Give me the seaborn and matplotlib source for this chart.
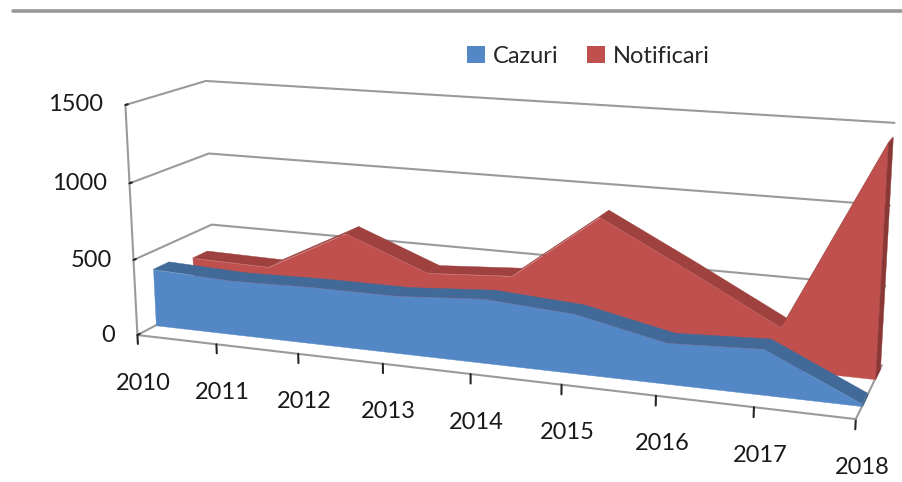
import numpy as np
import matplotlib
matplotlib.use("Agg")
import matplotlib.pyplot as plt
import seaborn as sns
from mpl_toolkits.mplot3d.art3d import Poly3DCollection
from mpl_toolkits.mplot3d import proj3d
from matplotlib.patches import Patch
from matplotlib.lines import Line2D

# ---- data ----
years = [2010, 2011, 2012, 2013, 2014, 2015, 2016, 2017, 2018]
cazuri = [380, 358, 370, 370, 408, 372, 252, 278, 12]
notificari = [330, 320, 600, 385, 420, 850, 560, 260, 1430]
series_names = ["Cazuri", "Notificari"]
value_ticks = [0, 500, 1000, 1500]

sns.set_theme(style="white")
plt.rcParams["font.family"] = ["Lato", "DejaVu Sans"]

front_cols = {"Cazuri": "#5387C5", "Notificari": "#C0504D"}
top_cols = {"Cazuri": "#416A99", "Notificari": "#9E413F"}
side_cols = {"Cazuri": "#3B5F8A", "Notificari": "#8A3836"}
text_col = "#1a1a1a"

fig = plt.figure(figsize=(9.03, 4.82), dpi=100)
ax = fig.add_axes([-0.015, -0.06, 1.12, 1.12], projection="3d")
ax.computed_zorder = False


def add_series(values, name, y0, y1, zbase):
    xs = list(range(len(values)))
    zs = list(values)
    tops = []
    for i in range(len(xs) - 1):
        tops.append([(xs[i], y0, zs[i]), (xs[i + 1], y0, zs[i + 1]),
                     (xs[i + 1], y1, zs[i + 1]), (xs[i], y1, zs[i])])
    front = [(xs[0], y0, 0)] + [(x, y0, z) for x, z in zip(xs, zs)] + [(xs[-1], y0, 0)]
    right = [(xs[-1], y0, 0), (xs[-1], y0, zs[-1]), (xs[-1], y1, zs[-1]), (xs[-1], y1, 0)]
    c1 = Poly3DCollection(tops, facecolors=top_cols[name], edgecolors=top_cols[name], linewidths=0.3)
    c2 = Poly3DCollection([front], facecolors=front_cols[name], edgecolors=front_cols[name], linewidths=0.3)
    c3 = Poly3DCollection([right], facecolors=side_cols[name], edgecolors=side_cols[name], linewidths=0.3)
    for k, c in enumerate((c1, c2, c3)):
        c.set_zorder(zbase + k)
        c.set_clip_on(False)
        ax.add_collection3d(c)


add_series(notificari, "Notificari", 1.45, 1.85, 10)
add_series(cazuri, "Cazuri", 0.45, 0.85, 20)

ax.set_xlim(0, len(years) - 1)
ax.set_ylim(0, 2)
ax.set_zlim(0, 1500)
ax.set_box_aspect((3.4, 0.75, 1.11), zoom=1.44)
ax.set_proj_type("persp", focal_length=0.6)
ax.view_init(elev=14, azim=-70)

ax.set_xticks(range(len(years)))
ax.set_yticks([])
ax.set_zticks(value_ticks)
ax.zaxis.set_ticks_position("lower")
ax.zaxis.set_label_position("lower")
ax.tick_params(axis="x", labelbottom=False)
ax.tick_params(axis="y", labelleft=False)
ax.tick_params(axis="z", labelleft=False)
for axis in (ax.xaxis, ax.yaxis, ax.zaxis):
    axis.label.set_visible(False)
    for t in axis.get_ticklabels():
        t.set_visible(False)
# x ticks point downwards (along the vertical axis)
ax.xaxis._get_tickdir = lambda *a, **k: 2

grey = "#9a9a9a"
for axis in (ax.xaxis, ax.yaxis, ax.zaxis):
    axis.set_pane_color((1, 1, 1, 0))
    axis.pane.set_edgecolor((1, 1, 1, 0))
    axis.line.set_color(grey)
    axis.line.set_linewidth(1.5)
    axis._axinfo["tick"]["inward_factor"] = 0.0
    axis._axinfo["tick"]["outward_factor"] = 0.35
    axis._axinfo["tick"]["color"] = grey
    axis._axinfo["tick"]["linewidth"] = {True: 1.5, False: 1.0}
ax.xaxis._axinfo["tick"]["outward_factor"] = 0.5
ax.zaxis.pane.set_edgecolor(grey)
ax.zaxis.pane.set_linewidth(1.5)
ax.zaxis._axinfo["grid"].update(color=grey, linewidth=1.5, linestyle="-")
ax.xaxis._axinfo["grid"].update(color=(1, 1, 1, 0), linewidth=0)
ax.yaxis._axinfo["grid"].update(color=(1, 1, 1, 0), linewidth=0)

# finalize the 3D projection, then place axis labels at projected tick positions
fig.canvas.draw()
M = ax.get_proj()


def projected(x, y, z):
    px, py, _ = proj3d.proj_transform(x, y, z, M)
    return (px, py)


for i, yr in enumerate(years):
    ax.annotate(str(yr), xy=projected(i, 0, 0), xycoords="data",
                xytext=(6, -48), textcoords="offset pixels", ha="center", va="center",
                fontsize=17, color=text_col, annotation_clip=False)
for v in value_ticks:
    ax.annotate(str(v), xy=projected(0, 0, v), xycoords="data",
                xytext=(-22, 0), textcoords="offset pixels", ha="right", va="center",
                fontsize=17, color=text_col, annotation_clip=False)

handles = [Patch(facecolor=front_cols[n], edgecolor="none", label=n) for n in series_names]
fig.legend(handles=handles, loc="center", bbox_to_anchor=(0.652, 0.883), ncol=2,
           frameon=False, fontsize=17, handlelength=0.75, handleheight=0.75,
           handletextpad=0.35, columnspacing=1.2)

fig.add_artist(Line2D([13 / 903, 1.0], [1 - 11 / 482, 1 - 11 / 482], color="#979797",
                      linewidth=2.6, transform=fig.transFigure))

fig.savefig("out.png", dpi=100)
